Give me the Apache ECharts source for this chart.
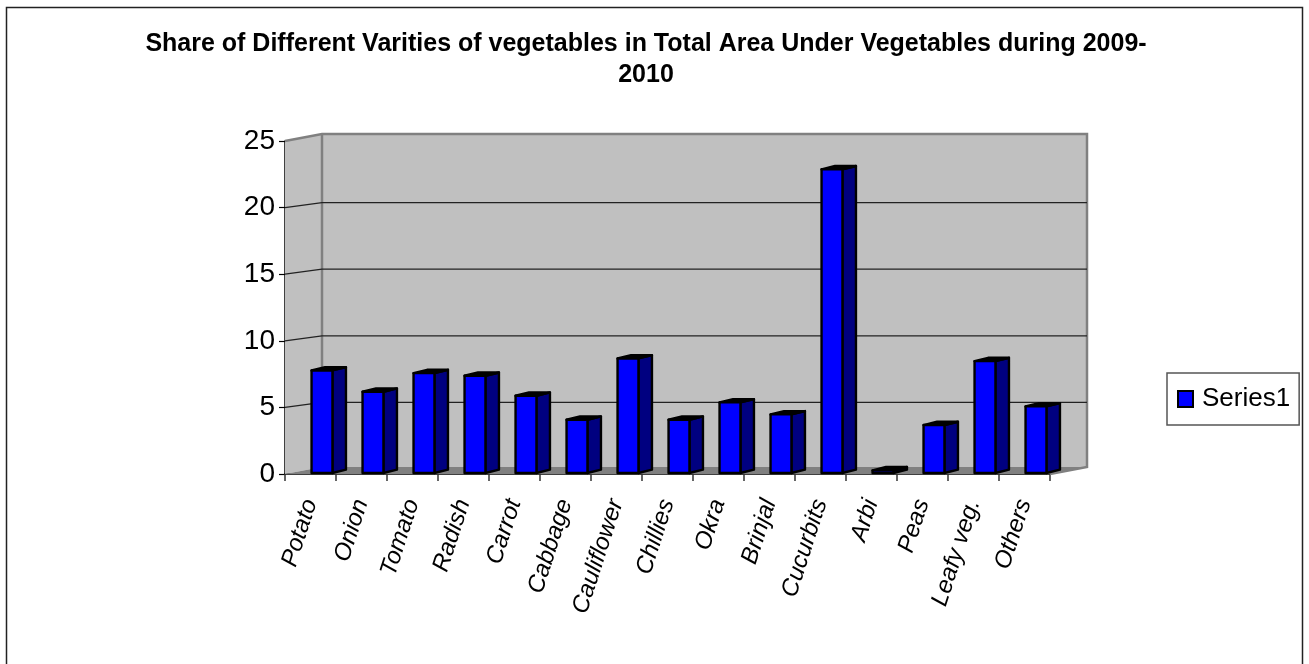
<!DOCTYPE html>
<html>
<head>
<meta charset="utf-8">
<style>
  html, body { margin: 0; padding: 0; background: #fff; }
  #main { width: 1309px; height: 664px; }
</style>
<script src="https://cdn.jsdelivr.net/npm/echarts@6/dist/echarts.min.js"></script>
</head>
<body>
<div id="main"></div>
<script>
const categories = ["Potato", "Onion", "Tomato", "Radish", "Carrot", "Cabbage", "Cauliflower", "Chillies", "Okra", "Brinjal", "Cucurbits", "Arbi", "Peas", "Leafy veg.", "Others"];
const series1 = [7.7, 6.1, 7.5, 7.3, 5.8, 4.0, 8.6, 4.0, 5.3, 4.4, 22.8, 0.2, 3.6, 8.4, 5.0];
const yTicks = [0, 5, 10, 15, 20, 25];

const font = "Liberation Sans";
// fake 3d: how far the back wall and the bars are pushed, in px
const wallDx = 37;
const wallDy = -7;
const lineDy = -5;
const barShiftX = 11.5;
const barShiftY = -1;
const barDx = 13.5;
const barDy = -3.3;
const barRatio = 0.41;

const myChart = echarts.init(document.getElementById("main"));

function poly(points, fill, stroke, lineWidth) {
  return {
    type: "polygon",
    shape: { points: points },
    style: { fill: fill, stroke: stroke, lineWidth: lineWidth, lineJoin: "round" },
  };
}

function renderWalls(params) {
  const c = params.coordSys;
  const l = c.x;
  const r = c.x + c.width;
  const t = c.y;
  const b = c.y + c.height;
  const edge = { stroke: "#808080", lineWidth: 2.5 };
  return {
    type: "group",
    children: [
      poly([[l + wallDx, t + wallDy], [r + wallDx, t + wallDy], [r + wallDx, b + wallDy], [l + wallDx, b + wallDy]], "#c0c0c0"),
      poly([[l, t], [l + wallDx, t + wallDy], [l + wallDx, b + wallDy], [l, b]], "#c0c0c0"),
      poly([[l, b], [l + wallDx, b + wallDy], [r + wallDx, b + wallDy], [r, b]], "#808080"),
      { type: "polyline", shape: { points: [[l, t], [l + wallDx, t + wallDy], [r + wallDx, t + wallDy], [r + wallDx, b + wallDy], [r, b]] }, style: { ...edge, fill: null } },
      { type: "line", shape: { x1: l + wallDx, y1: t + wallDy, x2: l + wallDx, y2: b + wallDy }, style: edge },
    ],
  };
}

function renderGridLine(params, api) {
  const v = api.value(1);
  const c = params.coordSys;
  const y = api.coord([0, v])[1];
  return {
    type: "polyline",
    shape: { points: [[c.x, y], [c.x + wallDx, y + lineDy], [c.x + c.width + wallDx, y + lineDy]] },
    style: { stroke: "#222", lineWidth: 1.2, fill: null },
  };
}

function renderBar(params, api) {
  const top = api.coord([api.value(0), api.value(1)]);
  const base = api.coord([api.value(0), 0]);
  const w = api.size([1, 0])[0] * barRatio;
  const x0 = top[0] - w / 2 + barShiftX;
  const x1 = x0 + w;
  const y0 = top[1] + barShiftY;
  const y1 = base[1] + barShiftY;
  const line = { stroke: "#000", lineWidth: 2.4 };
  return {
    type: "group",
    children: [
      poly([[x1, y0], [x1 + barDx, y0 + barDy], [x1 + barDx, y1 + barDy], [x1, y1]], "#000080", line.stroke, line.lineWidth),
      poly([[x0, y0], [x0 + barDx, y0 + barDy], [x1 + barDx, y0 + barDy], [x1, y0]], "#000000", line.stroke, line.lineWidth),
      poly([[x0, y0], [x1, y0], [x1, y1], [x0, y1]], "#0000ff", line.stroke, line.lineWidth),
    ],
  };
}

const option = {
  animation: false,
  backgroundColor: "#fff",
  title: {
    text: "Share of Different Varities of vegetables in Total Area Under Vegetables during 2009-\n2010",
    left: 641,
    top: 24,
    textAlign: "center",
    textStyle: { fontFamily: font, fontSize: 25, fontWeight: "bold", color: "#000", lineHeight: 31 },
  },
  legend: {
    data: ["Series1"],
    left: 1167,
    top: 373,
    orient: "vertical",
    selectedMode: false,
    icon: "rect",
    itemWidth: 15,
    itemHeight: 16,
    itemGap: 0,
    padding: [13, 9, 13, 10],
    borderColor: "#555",
    borderWidth: 1.5,
    textStyle: { fontFamily: font, fontSize: 26, color: "#000", padding: [0, 0, 0, 4] },
  },
  grid: { left: 285, top: 141, width: 765, height: 333 },
  xAxis: {
    type: "category",
    data: categories,
    axisLine: { lineStyle: { color: "#000", width: 1.5 } },
    axisTick: { show: true, alignWithLabel: false, length: 7, lineStyle: { color: "#333", width: 1.5 } },
    axisLabel: {
      interval: 0,
      rotate: 72,
      margin: 26,
      padding: [20, 0, 0, 0],
      fontFamily: font,
      fontSize: 24,
      fontStyle: "italic",
      color: "#000",
    },
  },
  yAxis: {
    type: "value",
    min: 0,
    max: 25,
    interval: 5,
    splitLine: { show: false },
    axisLine: { show: true, lineStyle: { color: "#000", width: 1.5 } },
    axisTick: { show: true, length: 6, lineStyle: { color: "#000", width: 1.2 } },
    axisLabel: { fontFamily: font, fontSize: 28, color: "#000", margin: 10 },
  },
  graphic: [
    {
      type: "rect",
      shape: { x: 6.5, y: 7.5, width: 1296, height: 660 },
      style: { fill: null, stroke: "#222", lineWidth: 1.5 },
      silent: true,
    },
  ],
  series: [
    {
      name: "walls",
      type: "custom",
      z: 1,
      silent: true,
      data: [[0, 0]],
      renderItem: renderWalls,
    },
    {
      name: "gridlines",
      type: "custom",
      z: 2,
      silent: true,
      data: yTicks.filter((v) => v > 0 && v < 25).map((v) => [0, v]),
      renderItem: renderGridLine,
    },
    {
      name: "Series1",
      type: "custom",
      z: 3,
      data: series1.map((v, i) => [i, v]),
      itemStyle: { color: "#0000ff", borderColor: "#000", borderWidth: 2 },
      renderItem: renderBar,
    },
  ],
};

myChart.setOption(option);
</script>
</body>
</html>
